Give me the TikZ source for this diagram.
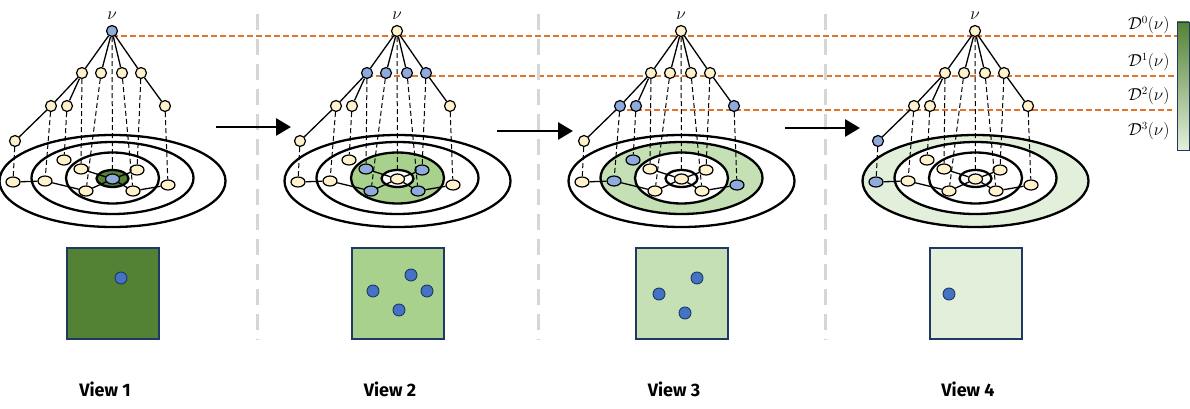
\documentclass[tikz,border=0pt]{standalone}
\usepackage{amsmath,amssymb}
\usepackage{fontspec}
\newfontfamily\viewfont{Fira Sans}
\usetikzlibrary{positioning,arrows.meta,shapes.geometric}
\definecolor{nodecream}{HTML}{FFF2CC}
\definecolor{nodeblue}{HTML}{8FAADC}
\definecolor{dotblue}{HTML}{4472C4}
\definecolor{navy}{HTML}{1F3864}
\definecolor{shadeA}{HTML}{548235}
\definecolor{shadeB}{HTML}{A9D18E}
\definecolor{shadeC}{HTML}{C5E0B4}
\definecolor{shadeD}{HTML}{E2EFDA}
\definecolor{levelorange}{HTML}{E0742B}
\definecolor{sepgray}{HTML}{D6D6D6}

\begin{document}
\begin{tikzpicture}[x=1pt,y=-1pt,
  hl1/.style={}, hl2/.style={}, hl3/.style={}, hl4/.style={},
  rg1/.style={fill=white}, rg2/.style={fill=white}, rg3/.style={fill=white}, rg4/.style={fill=white}]
  \tikzstyle{vertex}=[circle, draw, fill=nodecream, line width=1.2pt, inner sep=0pt, minimum size=11pt]
  \tikzstyle{flat}=[ellipse, draw, fill=nodecream, line width=1.2pt, inner sep=0pt, minimum width=14pt, minimum height=10pt]
  \tikzstyle{ring}=[draw, line width=2.3pt]
  \tikzstyle{edge}=[line width=1.3pt]
  \tikzstyle{link}=[line width=1pt, dash pattern=on 5pt off 3pt]
  \tikzstyle{levelline}=[levelorange, line width=1.3pt, dash pattern=on 6pt off 3pt]
  \tikzstyle{separator}=[sepgray, line width=3pt, dash pattern=on 16pt off 9pt]
  \tikzstyle{flow}=[line width=2.8pt, -{Triangle[length=15pt,width=17pt]}]
  \tikzstyle{viewbox}=[draw=navy, line width=1.8pt]
  \tikzstyle{dot}=[circle, draw=navy, fill=dotblue, line width=0.9pt, inner sep=0pt, minimum size=12pt]
  \tikzstyle{viewlabel}=[font=\viewfont\bfseries\fontsize{18}{20}\selectfont]
  \useasboundingbox (0,0) rectangle (1190,409);

  % depth levels
  \coordinate (D0a) at (112,36);  \coordinate (D0b) at (1177,36);
  \coordinate (D1a) at (367,76);  \coordinate (D1b) at (1174,76);
  \coordinate (D2a) at (618,110); \coordinate (D2b) at (1172,110);
  \draw[levelline] (D0a) -- (D0b);
  \draw[levelline] (D1a) -- (D1b);
  \draw[levelline] (D2a) -- (D2b);

  % separators between views
  \foreach \sx [count=\s] in {257,538,825}{
    \coordinate (S\s_a) at (\sx,14);
    \coordinate (S\s_b) at (\sx,340);
    \draw[separator] (S\s_a) -- (S\s_b);
  }

  % one view per panel
  \foreach \v/\dx/\sh in {1/0/shadeA,2/285/shadeB,3/569/shadeC,4/863/shadeD}{
  \begin{scope}[shift={(\dx,0)}]
    \tikzset{hl\v/.style={fill=nodeblue}, rg\v/.style={fill=\sh}}
    \draw[ring, rg4] (112.5,181) ellipse [x radius=113, y radius=46];
    \draw[ring, rg3] (112.5,178) ellipse [x radius=81, y radius=36];
    \draw[ring, rg2] (112.5,178) ellipse [x radius=46.5, y radius=25.5];
    \draw[ring, rg1] (112.5,178.5) ellipse [x radius=16, y radius=8.5];

    \node[above] (N\v) at (112,23) {\fontsize{19}{20}\selectfont$\nu$};

    \node[vertex, hl1] (T\v_0) at (112,31) {};
    \node[vertex, hl2] (T\v_1) at (82,73) {};
    \node[vertex, hl2] (T\v_2) at (101,73) {};
    \node[vertex, hl2] (T\v_3) at (122,73) {};
    \node[vertex, hl2] (T\v_4) at (141,73) {};
    \node[vertex, hl3] (T\v_5) at (51,106) {};
    \node[vertex, hl3] (T\v_6) at (67,106) {};
    \node[vertex, hl3] (T\v_7) at (165,106) {};
    \node[vertex, hl4] (T\v_8) at (15,141) {};

    \node[flat, hl1] (E\v_0) at (112.5,179) {};
    \node[flat, hl2] (E\v_1) at (81,169) {};
    \node[flat, hl2] (E\v_2) at (86,191) {};
    \node[flat, hl2] (E\v_3) at (133,191) {};
    \node[flat, hl2] (E\v_4) at (137,170) {};
    \node[flat, hl3] (E\v_5) at (45,181) {};
    \node[flat, hl3] (E\v_6) at (64,160) {};
    \node[flat, hl3] (E\v_7) at (168,185) {};
    \node[flat, hl4] (E\v_8) at (13,182) {};

    \draw[edge] (T\v_0) -- (T\v_1);
    \draw[edge] (T\v_0) -- (T\v_2);
    \draw[edge] (T\v_0) -- (T\v_3);
    \draw[edge] (T\v_0) -- (T\v_4);
    \draw[edge] (T\v_1) -- (T\v_5);
    \draw[edge] (T\v_1) -- (T\v_6);
    \draw[edge] (T\v_5) -- (T\v_8);
    \draw[edge] (T\v_4) -- (T\v_7);

    \draw[edge] (E\v_8) -- (E\v_5);
    \draw[edge] (E\v_5) -- (E\v_2);
    \draw[edge] (E\v_0) -- (E\v_1);
    \draw[edge] (E\v_0) -- (E\v_2);
    \draw[edge] (E\v_0) -- (E\v_3);
    \draw[edge] (E\v_0) -- (E\v_4);
    \draw[edge] (E\v_3) -- (E\v_7);

    \foreach \i in {0,...,8}
      \draw[link] (T\v_\i) -- (E\v_\i);

    \draw[viewbox, fill=\sh] (67,248) rectangle (159,339);
    \node[viewlabel] (V\v) at (105,389) {View \v};
  \end{scope}
  }

  % sampled nodes in each view
  \node[dot] (P1_1) at (121,278) {};
  \node[dot] (P2_1) at (411,275) {};
  \node[dot] (P2_2) at (373,291) {};
  \node[dot] (P2_3) at (427,291) {};
  \node[dot] (P2_4) at (399,310) {};
  \node[dot] (P3_1) at (697,278) {};
  \node[dot] (P3_2) at (659,294) {};
  \node[dot] (P3_3) at (685,313) {};
  \node[dot] (P4_1) at (949,294) {};

  % arrows between views
  \coordinate (A1s) at (216,127); \coordinate (A1e) at (291,127);
  \coordinate (A2s) at (497,131); \coordinate (A2e) at (573,131);
  \coordinate (A3s) at (785,128); \coordinate (A3e) at (860,128);
  \draw[flow] (A1s) -- (A1e);
  \draw[flow] (A2s) -- (A2e);
  \draw[flow] (A3s) -- (A3e);

  % depth legend
  \node[anchor=east] (L0) at (1173,25) {\fontsize{16}{18}\selectfont$\mathcal{D}^0(\nu)$};
  \node[anchor=east] (L1) at (1173,62) {\fontsize{16}{18}\selectfont$\mathcal{D}^1(\nu)$};
  \node[anchor=east] (L2) at (1173,96) {\fontsize{16}{18}\selectfont$\mathcal{D}^2(\nu)$};
  \node[anchor=east] (L3) at (1173,131) {\fontsize{16}{18}\selectfont$\mathcal{D}^3(\nu)$};
  \draw[draw=navy, line width=0.9pt, top color=shadeA, bottom color=shadeD] (1177,22) rectangle (1189,150);
\end{tikzpicture}
\end{document}
